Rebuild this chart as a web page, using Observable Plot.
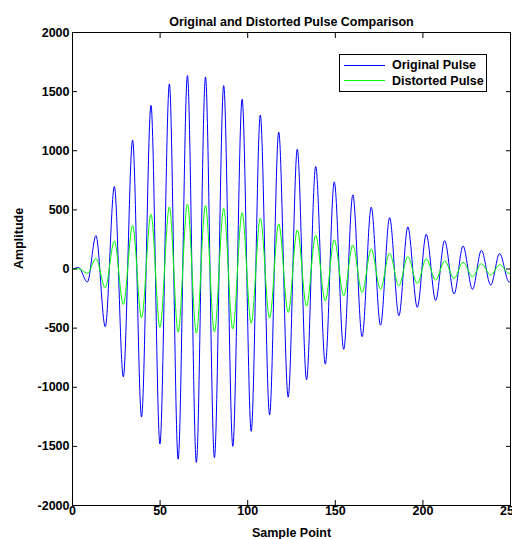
<!DOCTYPE html>
<html><head><meta charset="utf-8">
<script src="https://cdn.jsdelivr.net/npm/d3@7"></script>
<script src="https://cdn.jsdelivr.net/npm/@observablehq/plot@0.6"></script>
<style>
body{margin:0;background:#fff;}
#wrap{position:relative;width:512px;height:539px;overflow:hidden;background:#fff}
#legend{position:absolute;left:339px;top:54px;width:146px;height:36px;border:1px solid #000;background:#fff;font:bold 12.5px "Liberation Sans",Arial,sans-serif;color:#000}
.row{position:absolute;left:0;height:14px;display:flex;align-items:center;white-space:nowrap}
.sw{display:inline-block;width:41px;height:0;border-top:1px solid;margin-left:4px;margin-right:7px}
</style></head><body><div id="wrap"><div id="legend"></div></div>
<script>
// Sample positions of the read extrema (peaks / troughs) of both pulses
const sampleX = [0, 3.5, 8.5, 13.4, 18.7, 23.9, 29.0, 34.3, 39.4, 44.8, 49.9, 55.3, 60.3, 65.6, 70.7, 75.9, 81.0, 86.3, 91.5, 96.8, 102.0, 107.2, 112.5, 117.7, 123.1, 128.3, 133.6, 138.8, 144.3, 149.4, 154.8, 160.0, 165.3, 170.5, 175.8, 181.0, 186.3, 191.4, 196.8, 201.9, 207.3, 212.4, 217.8, 222.9, 228.3, 233.4, 238.7, 243.8, 249.2, 250];
const originalPulse = [0, 12, -110, 282, -489, 697, -912, 1090, -1252, 1384, -1480, 1565, -1608, 1636, -1636, 1624, -1596, 1551, -1500, 1436, -1373, 1302, -1234, 1158, -1084, 1012, -937, 867, -805, 737, -680, 627, -573, 523, -475, 435, -396, 356, -325, 294, -266, 240, -212, 195, -172, 158, -136, 130, -110, -105];
const distortedPulse = [0, 2, -36, 88, -158, 237, -300, 367, -413, 463, -492, 525, -534, 548, -542, 536, -532, 511, -506, 475, -458, 430, -415, 381, -367, 330, -314, 285, -269, 246, -226, 203, -198, 167, -170, 133, -142, 104, -121, 85, -93, 68, -79, 57, -65, 45, -51, 36, -38, -37];
const xTicks = [0, 50, 100, 150, 200, 250];
const yTicks = [-2000, -1500, -1000, -500, 0, 500, 1000, 1500, 2000];
const seriesNames = ["Original Pulse", "Distorted Pulse"];
const seriesColors = ["#0000ff", "#00ff00"];
const titleText = "Original and Distorted Pulse Comparison";
const xLabel = "Sample Point";
const yLabel = "Amplitude";

const orig = sampleX.map((x, i) => ({x, y: originalPulse[i]}));
const dist = sampleX.map((x, i) => ({x, y: distortedPulse[i]}));
const font = '"Liberation Sans", Arial, sans-serif';

const chart = Plot.plot({
  width: 512, height: 539,
  marginLeft: 72, marginRight: 2, marginTop: 32, marginBottom: 34,
  x: {domain: [0, 250]},
  y: {domain: [-2000, 2000]},
  style: {fontFamily: font, fontSize: "12.5px", fontWeight: "bold", color: "#000", background: "#fff", overflow: "visible"},
  marks: [
    Plot.line(orig, {x: "x", y: "y", stroke: seriesColors[0], strokeWidth: 1, curve: "monotone-x"}),
    Plot.line(dist, {x: "x", y: "y", stroke: seriesColors[1], strokeWidth: 1, curve: "monotone-x"}),
    Plot.frame({stroke: "#000", strokeWidth: 1}),
    Plot.axisX({ticks: xTicks, anchor: "bottom", tickSize: -5, tickPadding: 6, tickFormat: d => String(d), label: null, fontWeight: "bold"}),
    Plot.axisX({ticks: xTicks, anchor: "top", tickSize: -5, tickFormat: () => "", label: null}),
    Plot.axisY({ticks: yTicks, anchor: "left", tickSize: -5, tickPadding: 8, tickFormat: d => String(d), label: null, fontWeight: "bold"}),
    Plot.axisY({ticks: yTicks, anchor: "right", tickSize: -5, tickFormat: () => "", label: null}),
    Plot.text([titleText], {frameAnchor: "top", dy: -15, fontWeight: "bold", fontSize: 12.5, text: d => d}),
    Plot.text([xLabel], {frameAnchor: "bottom", dy: 31, fontWeight: "bold", fontSize: 12.5, text: d => d}),
    Plot.text([yLabel], {frameAnchor: "left", dx: -54, rotate: -90, fontWeight: "bold", fontSize: 12.5, text: d => d})
  ]
});
document.getElementById("wrap").prepend(chart);

const legend = document.getElementById("legend");
seriesNames.forEach((name, i) => {
  const row = document.createElement("div");
  row.className = "row";
  row.style.top = (i === 0 ? 3 : 18.7) + "px";
  const sw = document.createElement("span");
  sw.className = "sw";
  sw.style.borderTopColor = seriesColors[i];
  const t = document.createElement("span");
  t.textContent = name;
  row.append(sw, t);
  legend.append(row);
});
</script></body></html>
